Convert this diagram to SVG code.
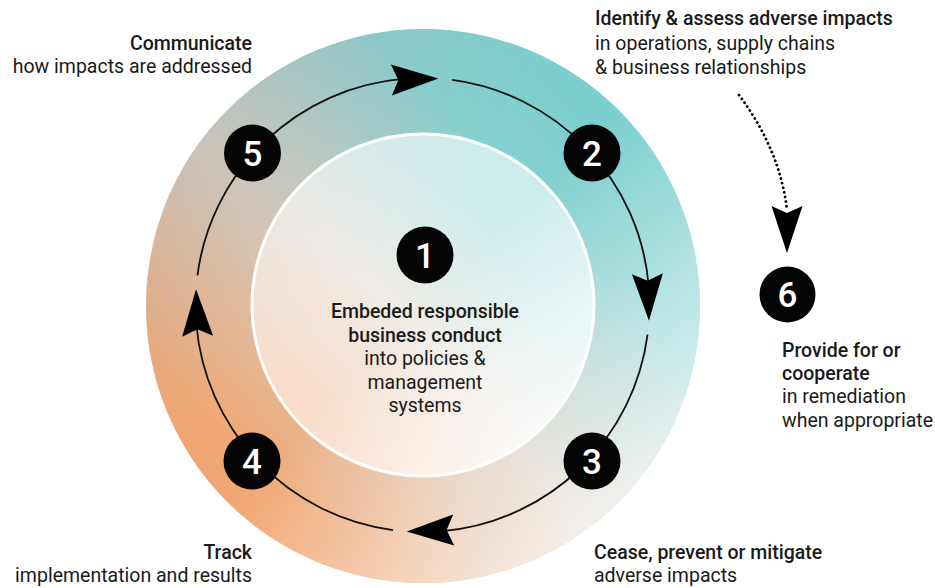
<svg xmlns="http://www.w3.org/2000/svg" xmlns:xlink="http://www.w3.org/1999/xlink" width="935" height="588" viewBox="0 0 935 588">
<style>
.t{font-family:Roboto,"Liberation Sans",sans-serif;font-size:19.5px;fill:#1a1a1a}
.b{font-weight:500}
.num{font-family:Roboto,"Liberation Sans",sans-serif;font-size:35px;font-weight:500;fill:#fff;text-anchor:middle}
.dot{fill:#050505}
.ring{fill:none;stroke:#111;stroke-width:1.8}
.ah{fill:#000}
</style>
<defs>
<linearGradient id="gBase" x1="1" y1="0" x2="0" y2="1">
<stop offset="0" stop-color="#6ecdcd"/>
<stop offset="0.3" stop-color="#86d0d0"/>
<stop offset="0.55" stop-color="#d8cbbd"/>
<stop offset="0.8" stop-color="#f0a874"/>
<stop offset="1" stop-color="#f0a06c"/>
</linearGradient>
<linearGradient id="gOver" x1="0" y1="0" x2="1" y2="1">
<stop offset="0" stop-color="#a8b0b4" stop-opacity="0.5"/>
<stop offset="0.4" stop-color="#a8b0b4" stop-opacity="0"/>
<stop offset="0.5" stop-color="#ffffff" stop-opacity="0"/>
<stop offset="1" stop-color="#ffffff" stop-opacity="1"/>
</linearGradient>
<polygon id="ah" points="0,0 -47,-15.5 -40,0 -47,15.5"/>
<path id="arc" d="M452.13,79.94 A227,227 0 0 1 648.64,285.22"/>
</defs>

<g id="cycle-disk">
<circle cx="423" cy="306" r="277" fill="url(#gBase)"/>
<circle cx="423" cy="306" r="277" fill="url(#gOver)"/>
<circle cx="423" cy="305" r="171" fill="url(#gBase)"/>
<circle cx="423" cy="305" r="171" fill="url(#gOver)"/>
<circle cx="423" cy="305" r="171" fill="#ffffff" fill-opacity="0.62" stroke="#ffffff" stroke-width="3"/>
</g>

<g id="connectors">
<use xlink:href="#arc" class="ring"/>
<use xlink:href="#arc" class="ring" transform="rotate(90 422.5 305)"/>
<use xlink:href="#arc" class="ring" transform="rotate(180 422.5 305)"/>
<use xlink:href="#arc" class="ring" transform="rotate(270 422.5 305)"/>
<use xlink:href="#ah" class="ah" transform="translate(438.33 78.55) rotate(-1.9)"/>
<use xlink:href="#ah" class="ah" transform="rotate(90 422.5 305) translate(438.33 78.55) rotate(-1.9)"/>
<use xlink:href="#ah" class="ah" transform="rotate(180 422.5 305) translate(438.33 78.55) rotate(-1.9)"/>
<use xlink:href="#ah" class="ah" transform="rotate(270 422.5 305) translate(438.33 78.55) rotate(-1.9)"/>
<path d="M739,95 Q780,150 787,210" fill="none" stroke="#000" stroke-width="2.8" stroke-linecap="round" stroke-dasharray="0.1 4.6"/>
<use xlink:href="#ah" class="ah" transform="translate(787 253) rotate(90)"/>
</g>

<g id="node-1">
<circle class="dot" cx="425" cy="255" r="28.5"/>
<text class="num" x="425" y="267.5">1</text>
<text class="t" text-anchor="middle" x="425"><tspan class="b" x="425" y="318">Embeded responsible</tspan><tspan class="b" x="425" y="341.5">business conduct</tspan><tspan x="425" y="365">into policies &amp;</tspan><tspan x="425" y="388.5">management</tspan><tspan x="425" y="412">systems</tspan></text>
</g>

<g id="node-2">
<circle class="dot" cx="592" cy="153" r="28.5"/>
<text class="num" x="592" y="165.5">2</text>
<text class="t" x="595"><tspan class="b" x="595" y="25">Identify &amp; assess adverse impacts</tspan><tspan x="595" y="49.5">in operations, supply chains</tspan><tspan x="595" y="73.5">&amp; business relationships</tspan></text>
</g>

<g id="node-3">
<circle class="dot" cx="592" cy="461" r="28.5"/>
<text class="num" x="592" y="473.5">3</text>
<text class="t" x="594"><tspan class="b" x="594" y="559">Cease, prevent or mitigate</tspan><tspan x="594" y="582">adverse impacts</tspan></text>
</g>

<g id="node-4">
<circle class="dot" cx="252" cy="461" r="28.5"/>
<text class="num" x="252" y="473.5">4</text>
<text class="t" text-anchor="end"><tspan class="b" x="252" y="559">Track</tspan><tspan x="252" y="582">implementation and results</tspan></text>
</g>

<g id="node-5">
<circle class="dot" cx="252.5" cy="153" r="28.5"/>
<text class="num" x="252.5" y="165.5">5</text>
<text class="t" text-anchor="end"><tspan class="b" x="252" y="50">Communicate</tspan><tspan x="252" y="73">how impacts are addressed</tspan></text>
</g>

<g id="node-6">
<circle class="dot" cx="787.5" cy="294.5" r="28"/>
<text class="num" x="787.5" y="307">6</text>
<text class="t" x="782"><tspan class="b" x="782" y="357">Provide for or</tspan><tspan class="b" x="782" y="380">cooperate</tspan><tspan x="782" y="403">in remediation</tspan><tspan x="782" y="426.5">when appropriate</tspan></text>
</g>
</svg>
